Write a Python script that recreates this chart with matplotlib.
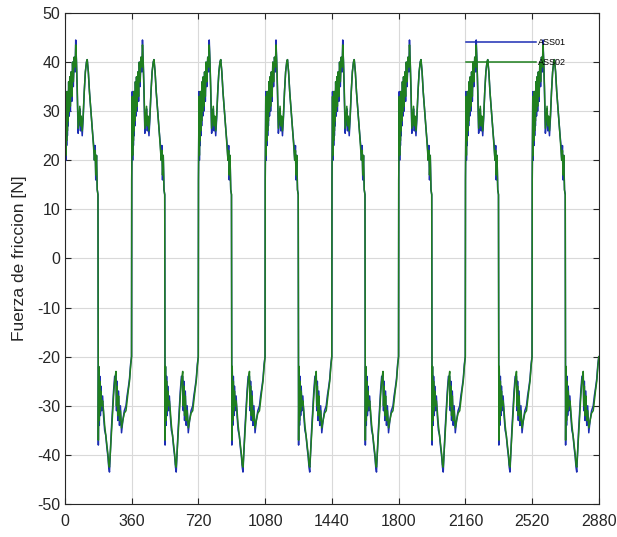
import matplotlib.pyplot as plt
import numpy as np

# one revolution (0-360 deg), repeated over 8 revolutions
ciclos = 8
ang_ciclo = [0, 3, 5, 7, 9, 11, 13, 15, 17, 20, 23, 26, 29, 33, 37, 41, 45, 50, 55, 58,
             62, 66, 71, 76, 80, 84, 88, 93, 98, 104, 110, 116, 120, 126, 132, 140, 148,
             155, 159, 163, 166, 170, 174, 178,
             180, 182, 185, 188, 191, 194, 198, 203, 208, 214, 220, 226, 232, 236, 240,
             244, 250, 256, 262, 268, 275, 278, 281, 285, 289, 294, 299, 305, 312, 320,
             329, 335, 341, 348, 354, 359]

ass02 = [16, 33, 21, 32, 24, 34, 26, 33, 28, 36, 30, 37, 31, 38, 33, 40, 36, 41, 39, 43.5,
         40, 35, 26.5, 29, 31, 27, 29, 26, 29, 34, 38, 40, 40.5, 38, 34, 30, 26,
         22, 20, 22, 17, 21, 14, 13,
         -37, -22, -33, -25, -31, -27, -30, -29, -31, -34, -36, -38, -40, -42, -42.5,
         -40, -36, -32, -28, -25, -23, -30, -26, -32, -28, -33, -31, -34.5, -33, -31.5,
         -31, -29, -27, -25, -22, -20]

ass01 = [16, 34, 20, 33, 23, 34, 25, 34, 27, 36, 29, 37, 30, 38, 32, 40, 35, 41, 38, 44.5,
         40, 34, 25.5, 28, 30.5, 26, 28, 25, 28.5, 34, 38, 40, 40.5, 38, 34, 30, 26,
         23, 20, 23, 16, 21, 14, 13,
         -38, -22, -34, -24, -32, -26, -31, -28, -32, -35, -36, -38.5, -40.5, -42.5, -43.5,
         -40, -35, -31, -27, -24, -24, -31, -25, -33, -27, -34, -30, -35.5, -33, -31,
         -30, -28, -26.5, -24.5, -21.5, -20]

x_ticks = [0, 360, 720, 1080, 1440, 1800, 2160, 2520, 2880]
y_ticks = [-50, -40, -30, -20, -10, 0, 10, 20, 30, 40, 50]

ang = np.concatenate([np.array(ang_ciclo) + 360 * k for k in range(ciclos)])
f01 = np.tile(ass01, ciclos)
f02 = np.tile(ass02, ciclos)

plt.rcParams['font.family'] = ['Liberation Sans', 'DejaVu Sans']
plt.rcParams['axes.unicode_minus'] = False

fig = plt.figure(figsize=(6.17, 5.37), dpi=100)
ax = fig.add_axes([0.1053, 0.0615, 0.8655, 0.9143])

ax.plot(ang, f01, color='#1c2db4', linewidth=1.1, label='ASS01')
ax.plot(ang, f02, color='#1f7f1f', linewidth=1.1, label='ASS02')

ax.set_xlim(0, 2880)
ax.set_ylim(-50, 50)
ax.set_xticks(x_ticks)
ax.set_yticks(y_ticks)
ax.tick_params(direction='in', top=True, right=True, labelsize=11.5, colors='#262626',
               length=4, width=0.8)
ax.tick_params(axis='x', pad=7)
ax.grid(True, color='#d9d9d9', linewidth=0.8)
ax.set_axisbelow(True)
for s in ax.spines.values():
    s.set_color('#262626')
    s.set_linewidth(0.8)

ax.set_ylabel('Fuerza de friccion [N]', fontsize=12.5, color='#262626', labelpad=7)

ax.legend(loc='upper left', bbox_to_anchor=(0.751, 0.949), frameon=False, fontsize=6.5,
          handlelength=7.7, handletextpad=0.3, labelspacing=1.2, borderpad=0,
          borderaxespad=0)

fig.savefig('out.png')
